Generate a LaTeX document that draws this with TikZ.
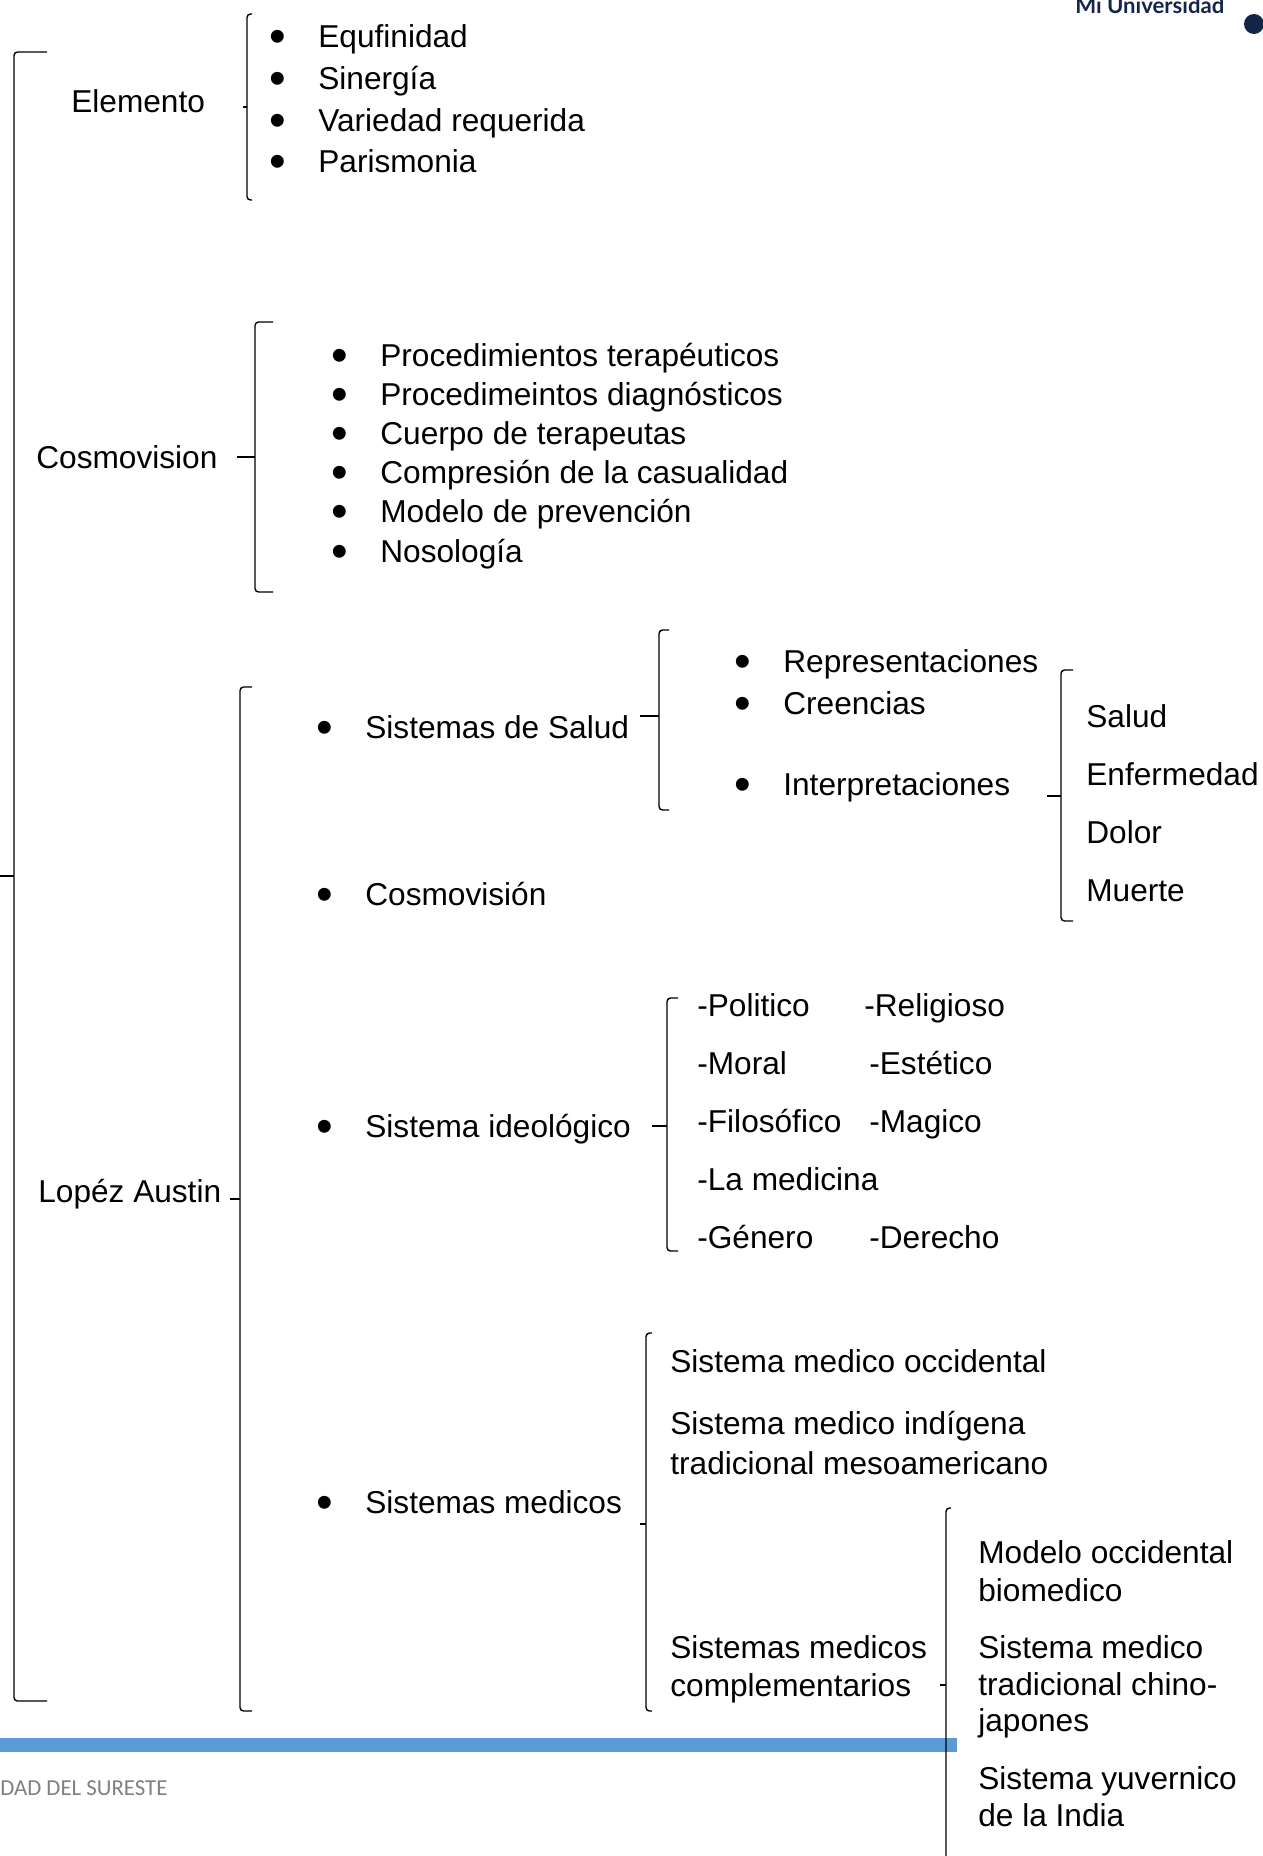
\documentclass[tikz,border=0pt]{standalone}
\usepackage{fontspec}
\setmainfont{Liberation Sans}
\newfontfamily\logofont{Lato}
\newfontfamily\footfont{Carlito}
\definecolor{navy}{HTML}{14254A}
\definecolor{barblue}{HTML}{5B9BD5}
\newcommand{\bul}[1]{\makebox[0.82cm][l]{\hspace{-4.7pt}\smash{\raisebox{-2.7pt}{\fontsize{27}{27}\selectfont •}}}#1}
% bracket: x, top, bottom, middle, tick start, tick length
\newcommand{\grp}[6]{%
  \draw[brk] (#1+#6,#2) -- (#1,#2) -- (#1,#3) -- (#1+#6,#3);
  \draw[brk] (#5,#4) -- (#1,#4);}

\begin{document}
\begin{tikzpicture}[x=0.02cm, y=-0.02cm, font=\fontsize{18}{21.6}\selectfont,
    txt/.style={anchor=west, inner sep=0pt, text height=12.9pt, text depth=0pt},
    brk/.style={line width=0.8pt, rounded corners=2pt}]
    \useasboundingbox (0,0) rectangle (1262,1856);

    % Header and footer
    \node[anchor=base west, inner sep=0pt, text=navy, font=\logofont\bfseries\fontsize{12.6}{12.6}\selectfont] (logo) at (1075,13) {Mi Universidad};
    \fill[navy] (1254,24) circle (0.2cm);
    \fill[barblue] (0,1738) rectangle (957,1752);
    \node[anchor=west, inner sep=0pt, text=gray, font=\footfont\fontsize{13}{13}\selectfont] (foot) at (0,1788) {DAD DEL SURESTE};

    % Main bracket
    \draw[brk] (47,52) -- (14,52) -- (14,1701) -- (47,1701);
    \draw[brk] (0,876) -- (14,876);

    % Elemento
    \node[txt] (elem) at (71,101) {Elemento};
    \grp{247}{14}{200}{107}{243}{5}
    \node[txt] (elem-1) at (277,36) {\bul{Equfinidad}};
    \node[txt] (elem-2) at (277,78) {\bul{Sinergía}};
    \node[txt] (elem-3) at (277,120) {\bul{Variedad requerida}};
    \node[txt] (elem-4) at (277,161) {\bul{Parismonia}};

    % Cosmovision
    \node[txt] (cosmo) at (36,457) {Cosmovision};
    \grp{255}{322}{592}{457}{237}{18}
    \node[txt] (cosmo-1) at (339,355) {\bul{Procedimientos terapéuticos}};
    \node[txt] (cosmo-2) at (339,394) {\bul{Procedimeintos diagnósticos}};
    \node[txt] (cosmo-3) at (339,433) {\bul{Cuerpo de terapeutas}};
    \node[txt] (cosmo-4) at (339,472) {\bul{Compresión de la casualidad}};
    \node[txt] (cosmo-5) at (339,511) {\bul{Modelo de prevención}};
    \node[txt] (cosmo-6) at (339,551) {\bul{Nosología}};

    % Lopez Austin
    \node[txt] (lopez) at (38,1191) {Lopéz Austin};
    \grp{240}{687}{1711}{1199}{230}{12}
    \node[txt] (lopez-1) at (324,727) {\bul{Sistemas de Salud}};
    \node[txt] (lopez-2) at (324,894) {\bul{Cosmovisión}};
    \node[txt] (lopez-3) at (324,1126) {\bul{Sistema ideológico}};
    \node[txt] (lopez-4) at (324,1502) {\bul{Sistemas medicos}};

    % Sistemas de Salud
    \grp{659}{630}{810}{716}{640}{10}
    \node[txt] (salud-1) at (742,661) {\bul{Representaciones}};
    \node[txt] (salud-2) at (742,703) {\bul{Creencias}};
    \node[txt] (salud-3) at (742,784) {\bul{Interpretaciones}};
    \grp{1061}{670}{921}{796}{1047}{12}
    \node[txt] (interp-1) at (1086,716) {Salud};
    \node[txt] (interp-2) at (1086,774) {Enfermedad};
    \node[txt] (interp-3) at (1086,832) {Dolor};
    \node[txt] (interp-4) at (1086,890) {Muerte};

    % Sistema ideologico
    \grp{667}{998}{1251}{1126}{652}{11}
    \node[txt] (ideo-1-1) at (697,1005) {-Politico};
    \node[txt] (ideo-1-2) at (864,1005) {-Religioso};
    \node[txt] (ideo-2-1) at (697,1063) {-Moral};
    \node[txt] (ideo-2-2) at (869,1063) {-Estético};
    \node[txt] (ideo-3-1) at (697,1121) {-Filosófico};
    \node[txt] (ideo-3-2) at (869,1121) {-Magico};
    \node[txt] (ideo-4-1) at (697,1179) {-La medicina};
    \node[txt] (ideo-5-1) at (697,1237) {-Género};
    \node[txt] (ideo-5-2) at (869,1237) {-Derecho};

    % Sistemas medicos
    \grp{646}{1333}{1711}{1524}{640}{6}
    \node[txt] (med-1) at (670,1361) {Sistema medico occidental};
    \node[txt] (med-2a) at (670,1423) {Sistema medico indígena};
    \node[txt] (med-2b) at (670,1463) {tradicional mesoamericano};
    \node[txt] (med-3a) at (670,1647) {Sistemas medicos};
    \node[txt] (med-3b) at (670,1685) {complementarios};
    \grp{946}{1508}{1870}{1685}{940}{5}
    \node[txt] (comp-1a) at (978,1552) {Modelo occidental};
    \node[txt] (comp-1b) at (978,1590) {biomedico};
    \node[txt] (comp-2a) at (978,1647) {Sistema medico};
    \node[txt] (comp-2b) at (978,1684) {tradicional chino-};
    \node[txt] (comp-2c) at (978,1720) {japones};
    \node[txt] (comp-3a) at (978,1778) {Sistema yuvernico};
    \node[txt] (comp-3b) at (978,1815) {de la India};

\end{tikzpicture}
\end{document}
